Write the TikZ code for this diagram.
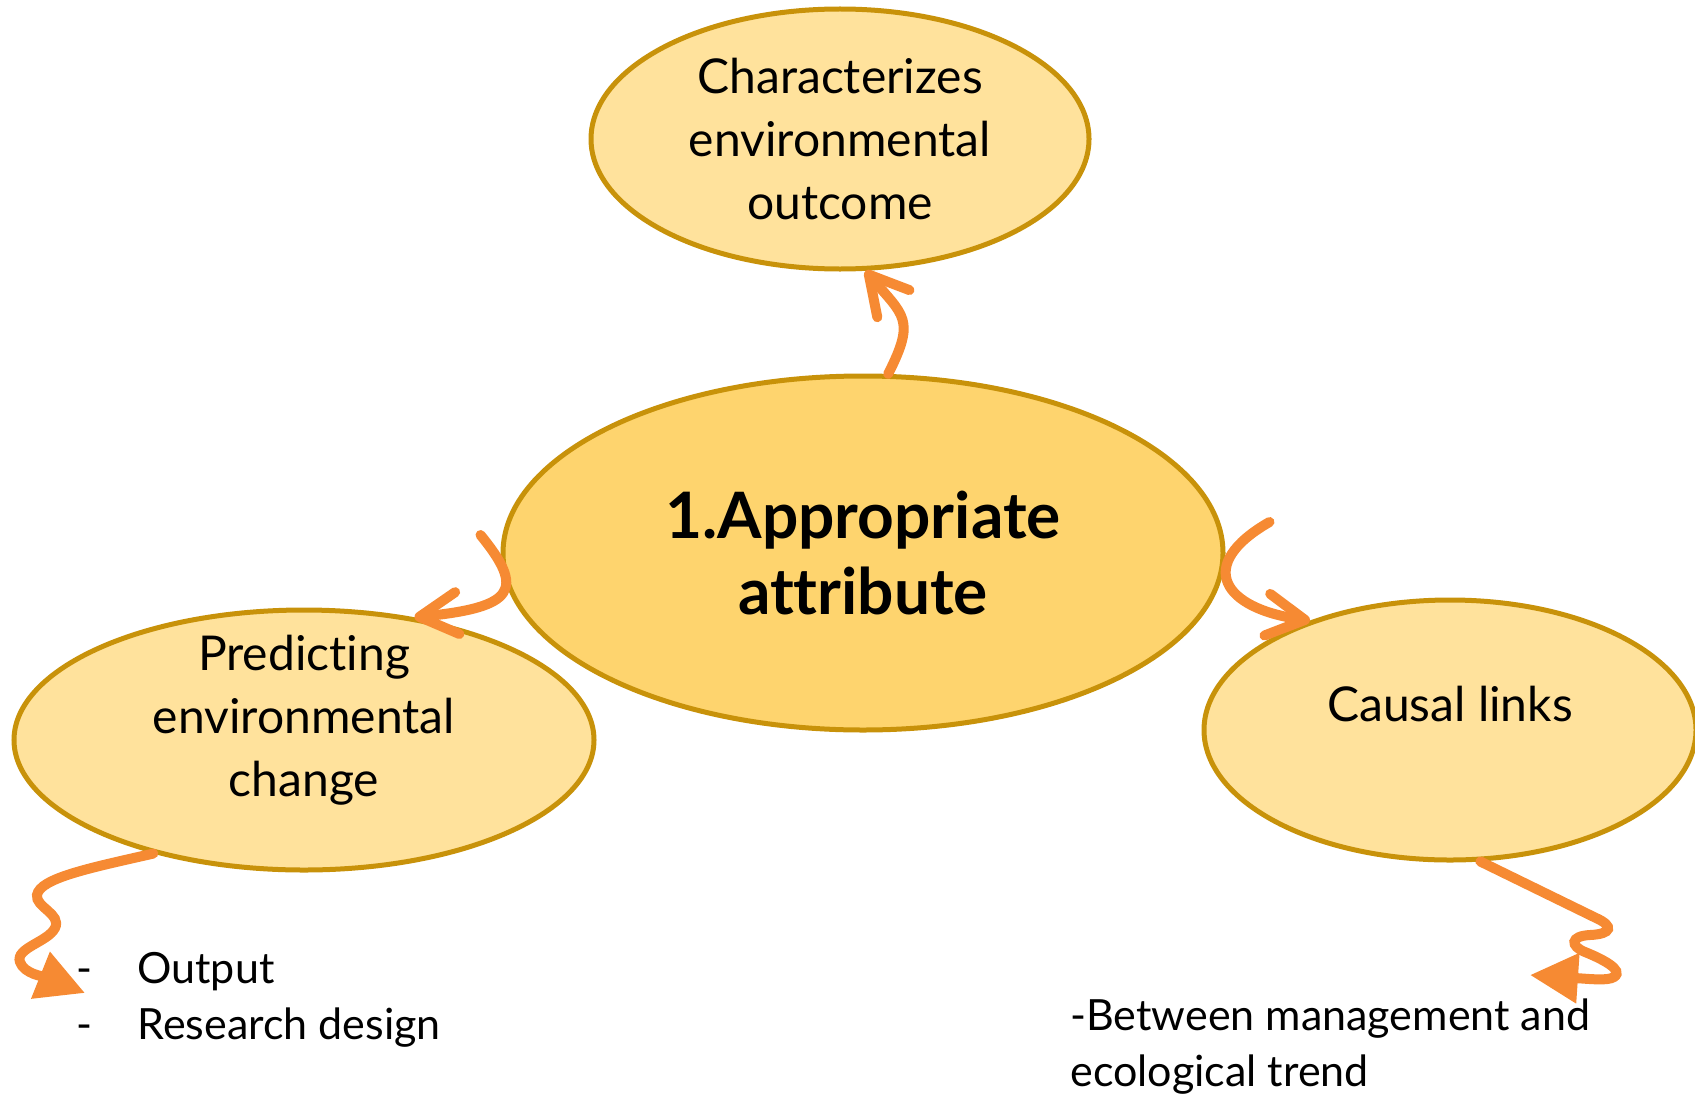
\documentclass[tikz,border=0pt]{standalone}
\usepackage{fontspec}
\setmainfont{Lato}[Ligatures=NoCommon]
\usetikzlibrary{shapes.geometric,arrows.meta}
\definecolor{bubblefill}{HTML}{FFE29C}
\definecolor{corefill}{HTML}{FED46E}
\definecolor{bubbleline}{HTML}{C8920A}
\definecolor{floworange}{HTML}{F68A33}
\tikzset{bubble/.style={ellipse,draw=bubbleline,line width=2.5pt,fill=bubblefill,inner sep=0pt}}
\tikzset{bubbletext/.style={align=center,inner sep=0pt,font=\fontsize{24}{31.5}\selectfont}}
\tikzset{listtext/.style={align=left,inner sep=0pt,anchor=north west,font=\fontsize{21.5}{28}\selectfont}}
\tikzset{flow/.style={draw=floworange,line width=5pt,line cap=round,
  -{Straight Barb[round,length=19pt,width=21pt]}}}
\tikzset{flowfill/.style={draw=floworange,line width=5pt,line cap=round,
  -{Triangle[length=24pt,width=24pt]},fill=none}}

\begin{document}
\begin{tikzpicture}[x=0.5pt,y=-0.5pt]
  \useasboundingbox (0,0) rectangle (1695,1097);

  % the four ellipses
  \node [bubble,minimum width=249pt,minimum height=130pt,bubbletext] (char) at (840,139)
    {Characterizes\\environmental\\outcome};
  \node [bubble,fill=corefill,minimum width=360pt,minimum height=177pt,align=center,
    font=\fontsize{32}{38}\selectfont\bfseries] (attr) at (863,553)
    {1.Appropriate\\attribute};
  \node [bubble,minimum width=290pt,minimum height=130pt] (predict) at (304,740) {};
  \node [bubble,minimum width=246pt,minimum height=130pt] (causal) at (1450,730) {};
  \node [bubbletext] (predicttext) at ([yshift=10pt]predict.center)
    {Predicting\\environmental\\change};
  \node [bubbletext] (causaltext) at ([yshift=13pt]causal.center) {Causal links};

  % lists below
  \node [listtext] (outlist) at (76,952)
    {\makebox[30.5pt][l]{-}Output\\\makebox[30.5pt][l]{-}Research design};
  \node [listtext] (linklist) at (1070,998)
    {-Between management and\\ecological trend};
  \coordinate (outtip)  at (85,993);
  \coordinate (linktip) at (1530,975);

  % arrows
  \draw [flow] (attr.82) .. controls +(28,-55) and +(38,45) .. (char.-79);
  \draw [flow] ([shift={(-20,-18)}]attr.west) .. controls +(45,55) and +(100,-10) .. (predict.48);
  \draw [flow] ([shift={(44,-31)}]attr.east) .. controls +(-75,43) and +(-87,-12) .. (causal.142);

  \draw [flowfill] (predict.-143) .. controls (90,868) and (40,878) .. (37,895)
    .. controls (35,907) and (62,914) .. (55,928)
    .. controls (48,942) and (15,948) .. (20,962)
    .. controls (24,974) and (45,977) .. (outtip);
  \draw [flowfill] (causal.-77) -- (1596,918)
    .. controls (1614,926) and (1612,934) .. (1590,935)
    .. controls (1570,936) and (1570,946) .. (1585,952)
    .. controls (1600,958) and (1625,970) .. (1614,977)
    .. controls (1608,981) and (1590,979) .. (linktip);
\end{tikzpicture}
\end{document}
